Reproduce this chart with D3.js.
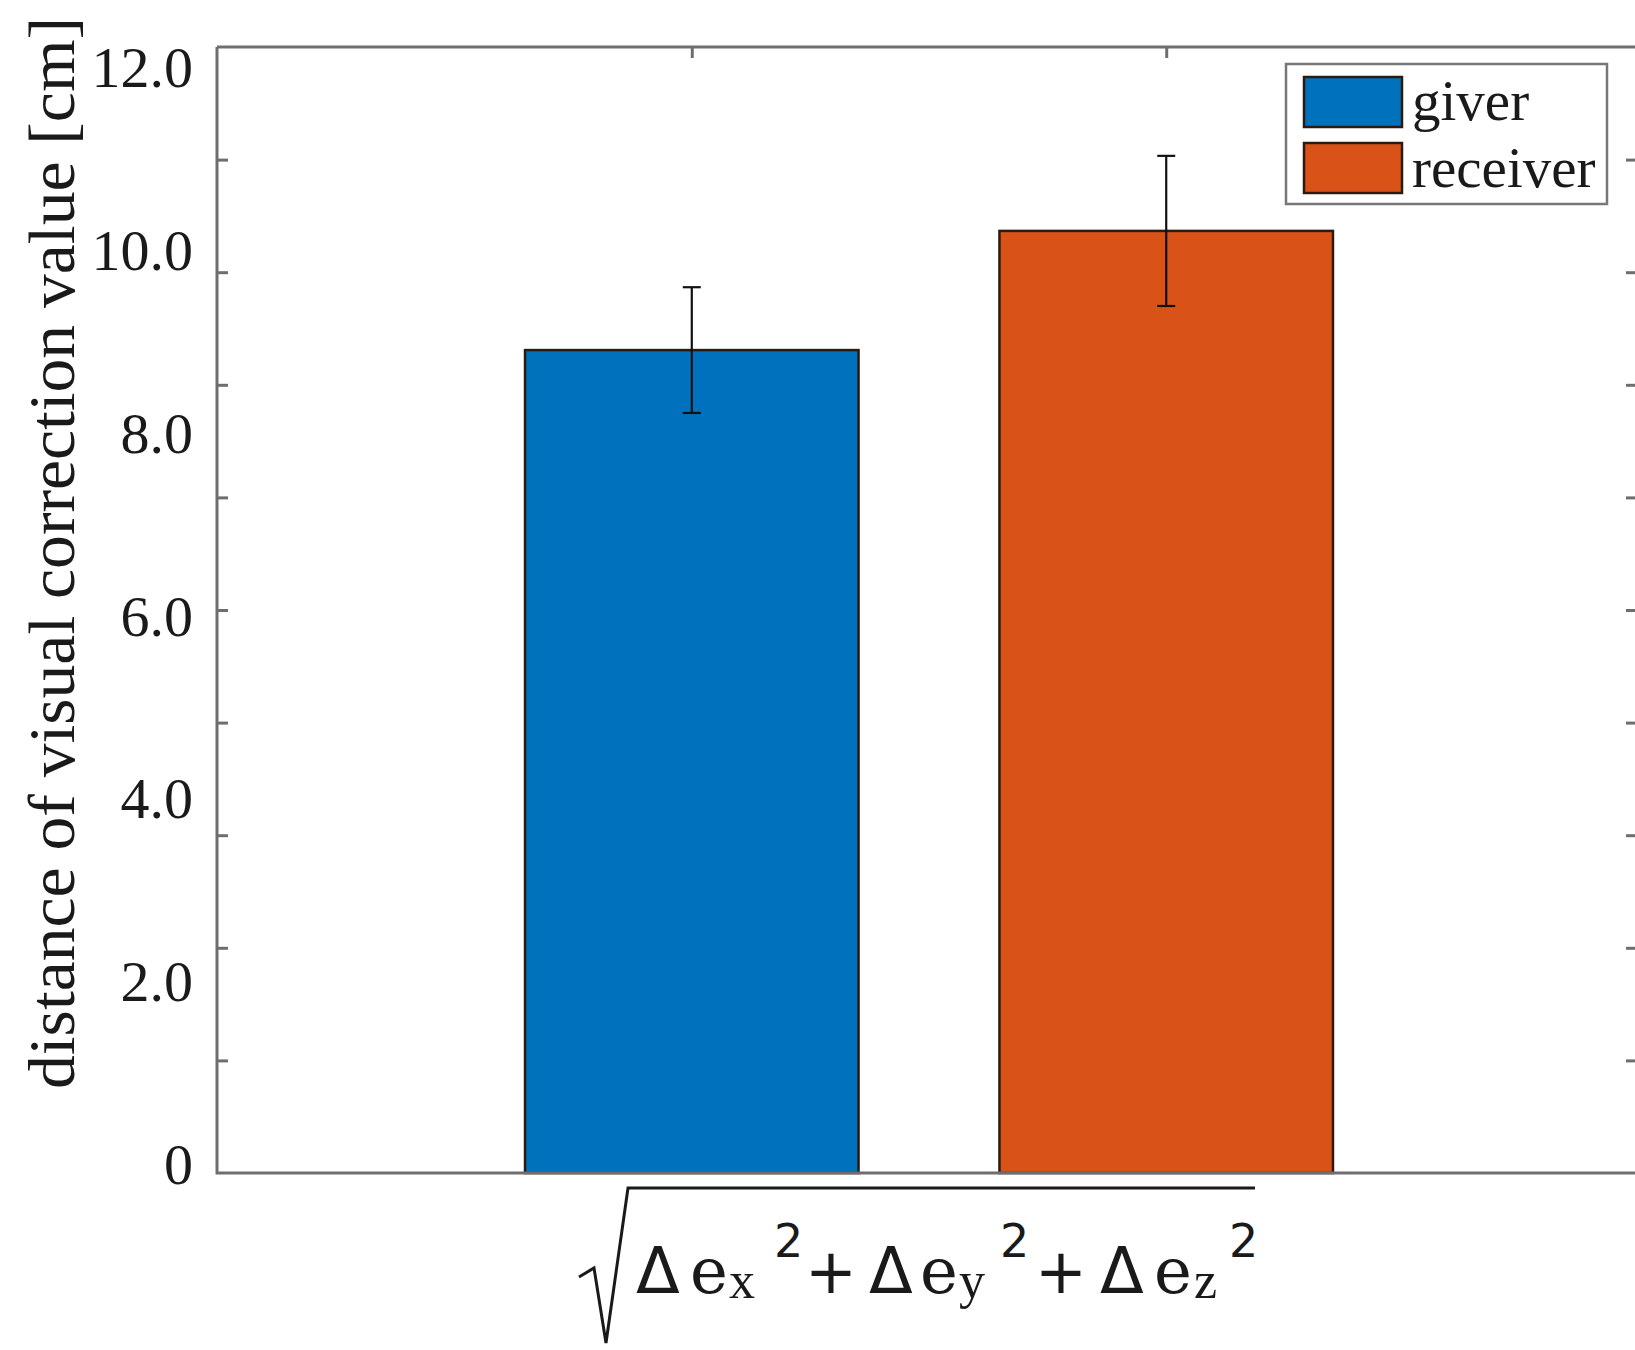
<!DOCTYPE html>
<html><head><meta charset="utf-8">
<script src="https://cdn.jsdelivr.net/npm/d3@7"></script>
<style>body{margin:0;background:#fff}svg{display:block}</style>
</head><body>
<script>
const categories = ["giver", "receiver"];
const means = [8.77, 10.04];
const errors = [0.67, 0.80];
const colors = ["#0072BD", "#D95319"];
const yLabelValues = [0, 2, 4, 6, 8, 10, 12];
const yLabelTexts = ["0", "2.0", "4.0", "6.0", "8.0", "10.0", "12.0"];
const yTickMarks = [1.2, 2.4, 3.6, 4.8, 6.0, 7.2, 8.4, 9.6, 10.8];
const yTitle = "distance of visual correction value [cm]";

const W = 1635, H = 1350;
const L = 217, R = 1637, T = 47, B = 1173;
const svg = d3.select("body").append("svg").attr("width", W).attr("height", H);
const serif = "'Liberation Serif','Times New Roman',serif";
const dserif = "'DejaVu Serif',serif";
const sans = "'DejaVu Sans',sans-serif";
const ink = "#1a1a1a";

const x = d3.scaleBand().domain(categories).range([L + 2, R + 2]).paddingInner(0.297).paddingOuter(0.645);
const y = d3.scaleLinear().domain([0, 12]).range([B, T]);
const yLab = d3.scaleLinear().domain([0, 12]).range([1165, 68]);

// bars
svg.selectAll("rect.bar").data(categories).join("rect")
  .attr("x", d => x(d)).attr("width", x.bandwidth())
  .attr("y", (d, i) => y(means[i])).attr("height", (d, i) => y(0) - y(means[i]))
  .attr("fill", (d, i) => colors[i]).attr("stroke", "#2a1a10").attr("stroke-width", 2.5);

// error bars
const eb = svg.selectAll("g.eb").data(categories).join("g").attr("stroke", "#111").attr("stroke-width", 2.2);
const cx = d => x(d) + x.bandwidth() / 2;
eb.append("line").attr("x1", cx).attr("x2", cx)
  .attr("y1", (d, i) => y(means[i] + errors[i])).attr("y2", (d, i) => y(means[i] - errors[i]));
eb.append("line").attr("x1", d => cx(d) - 9).attr("x2", d => cx(d) + 9)
  .attr("y1", (d, i) => y(means[i] + errors[i])).attr("y2", (d, i) => y(means[i] + errors[i]));
eb.append("line").attr("x1", d => cx(d) - 9).attr("x2", d => cx(d) + 9)
  .attr("y1", (d, i) => y(means[i] - errors[i])).attr("y2", (d, i) => y(means[i] - errors[i]));

// axes frame
const axCol = "#6e6e6e";
svg.append("path").attr("d", `M${L},${T}H${R}M${L},${T}V${B}H${R}M${R},${T}V${B}`)
  .attr("fill", "none").attr("stroke", axCol).attr("stroke-width", 3);

const gl = svg.append("g").attr("transform", `translate(${L},0)`)
  .call(d3.axisRight(y).tickValues(yTickMarks).tickSize(11).tickFormat(""));
gl.select(".domain").remove();
gl.selectAll("line").attr("stroke", axCol).attr("stroke-width", 3);
const gr = svg.append("g").attr("transform", `translate(${R},0)`)
  .call(d3.axisLeft(y).tickValues(yTickMarks).tickSize(11).tickFormat(""));
gr.select(".domain").remove();
gr.selectAll("line").attr("stroke", axCol).attr("stroke-width", 3);
const gt = svg.append("g").attr("transform", `translate(0,${T})`)
  .call(d3.axisBottom(d3.scalePoint().domain(categories).range([cx("giver"), cx("receiver")])).tickSize(11).tickFormat(""));
gt.select(".domain").remove();
gt.selectAll("line").attr("stroke", axCol).attr("stroke-width", 3);

// y labels
const gy = svg.append("g").attr("transform", `translate(${L},0)`)
  .call(d3.axisLeft(yLab).tickValues(yLabelValues).tickSize(0).tickPadding(24)
    .tickFormat((d, i) => yLabelTexts[i]));
gy.select(".domain").remove();
gy.selectAll("text").attr("font-family", serif).attr("font-size", 58).attr("fill", ink);

// y title
svg.append("text").attr("transform", `translate(74,553) rotate(-90)`)
  .attr("text-anchor", "middle").attr("font-family", serif).attr("font-size", 66)
  .attr("fill", ink).attr("textLength", 1072).attr("lengthAdjust", "spacingAndGlyphs").text(yTitle);

// legend
const lg = svg.append("g");
lg.append("rect").attr("x", 1286).attr("y", 64).attr("width", 321).attr("height", 140)
  .attr("fill", "#fff").attr("stroke", "#777").attr("stroke-width", 2.5);
categories.forEach((c, i) => {
  lg.append("rect").attr("x", 1304).attr("y", 77 + i * 66).attr("width", 98).attr("height", 50)
    .attr("fill", colors[i]).attr("stroke", "#2a1a10").attr("stroke-width", 2.5);
  lg.append("text").attr("x", 1412).attr("y", 120 + i * 67).attr("font-family", serif)
    .attr("font-size", 57).attr("fill", ink).text(c);
});

// x label: sqrt formula
const fx = svg.append("g").attr("fill", ink);
svg.append("path").attr("d", "M579,1277 L594,1268 L606,1343 L628,1188 H1255")
  .attr("fill", "none").attr("stroke", ink).attr("stroke-width", 3);
const base = 1293;
const parts = [
  ["Δ", 636, base, sans, 64], ["e", 690, base, dserif, 64], ["x", 729, base + 5, serif, 52], ["2", 774, base - 36, sans, 46],
  ["+", 805, base, sans, 62],
  ["Δ", 869, base, sans, 64], ["e", 920, base, dserif, 64], ["y", 959, base + 5, serif, 52], ["2", 1000, base - 36, sans, 46],
  ["+", 1035, base, sans, 62],
  ["Δ", 1100, base, sans, 64], ["e", 1154, base, dserif, 64], ["z", 1194, base + 5, serif, 52], ["2", 1229, base - 36, sans, 46]
];
parts.forEach(p => fx.append("text").attr("x", p[1]).attr("y", p[2]).attr("font-family", p[3]).attr("font-size", p[4]).text(p[0]));
</script>
</body></html>
